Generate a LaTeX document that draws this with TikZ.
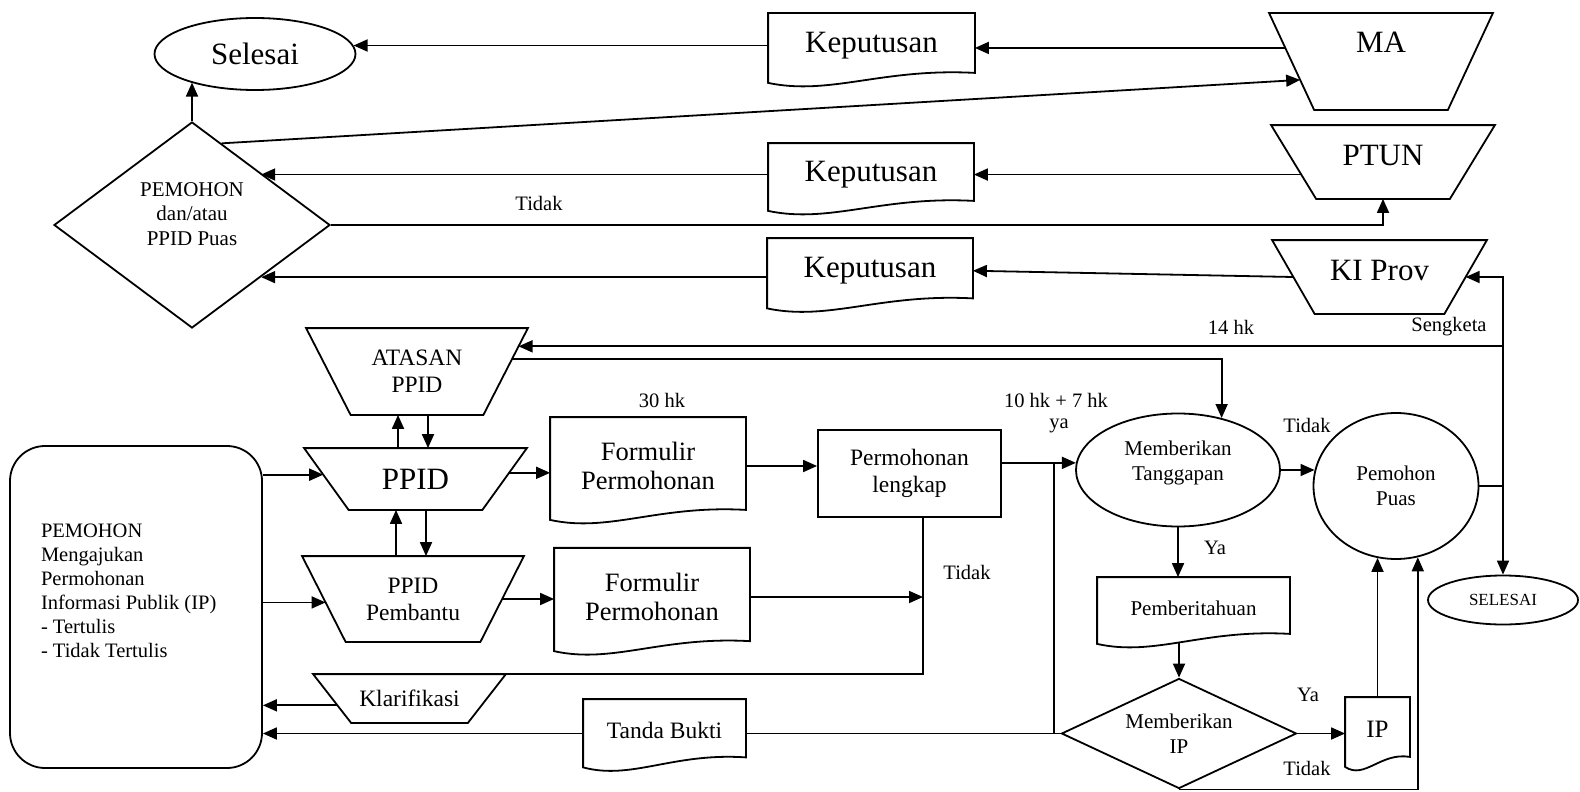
\documentclass[tikz,border=0pt]{standalone}
\usepackage{fontspec}
\setmainfont{Liberation Serif}
\usetikzlibrary{arrows.meta, calc, shapes.geometric}

% wavy-bottom document outline around a plain node
\newcommand{\docoutline}[1]{%
  \draw (#1.north west) -- (#1.north east) -- ([yshift=5pt]#1.south east)
    .. controls ($(#1.south west)!0.55!(#1.south east)+(0pt,10pt)$) and ($(#1.south west)!0.3!(#1.south east)+(0pt,-18pt)$) .. ([yshift=-5pt]#1.south west) -- cycle;}
% trapezium outline (wide top) around a plain node, #2 = inset of the bottom corners
\newcommand{\trapoutline}[2]{%
  \draw (#1.north west) -- (#1.north east) -- ([xshift=-#2]#1.south east) -- ([xshift=#2]#1.south west) -- cycle;}
% raise a node text without changing its box
\newcommand{\liftup}[2]{\raisebox{#1}[\height][\depth]{\begin{tabular}{@{}c@{}}#2\end{tabular}}}

\begin{document}
\begin{tikzpicture}[x=1pt, y=-1pt, line width=1.8pt,
  arr/.style={-{Triangle[length=14pt,width=12pt]}},
  endbox/.style={ellipse, draw, inner sep=0pt},
  trapbox/.style={rectangle, inner sep=0pt},
  docbox/.style={rectangle, inner sep=0pt},
  procbox/.style={rectangle, draw, inner sep=0pt},
  choice/.style={diamond, draw, inner sep=0pt},
  bigtxt/.style={font=\fontsize{31}{34}\selectfont},
  midtxt/.style={font=\fontsize{26.5}{29}\selectfont},
  medtxt/.style={font=\fontsize{23.5}{27}\selectfont},
  smalltxt/.style={font=\fontsize{21}{24.5}\selectfont},
  lbl/.style={font=\fontsize{20.5}{24}\selectfont}]
\useasboundingbox (0,0) rectangle (1580,792);
% Top: decisions
\node[endbox, bigtxt, minimum width=201pt, minimum height=72pt] (selesaiA) at (255,54) {Selesai};
\node[docbox, bigtxt, minimum width=205pt, minimum height=63pt] (kep1) at (871.5,45.5) {Keputusan};
\node[trapbox, bigtxt, minimum width=222pt, minimum height=95pt] (ma) at (1381,61.5) {\liftup{16pt}{MA}};
\node[choice, smalltxt, minimum width=276pt, minimum height=206pt] (puasA) at (192,225) {\liftup{9pt}{PEMOHON\\dan/atau\\PPID Puas}};
\node[docbox, bigtxt, minimum width=204pt, minimum height=61pt] (kep2) at (871,174.5) {Keputusan};
\node[trapbox, bigtxt, minimum width=222pt, minimum height=72pt] (ptun) at (1383,162) {\liftup{3pt}{PTUN}};
\node[docbox, bigtxt, minimum width=204pt, minimum height=63.5pt] (kep3) at (870,270.75) {Keputusan};
\node[trapbox, bigtxt, minimum width=213pt, minimum height=72pt] (kiprov) at (1379.5,277) {\liftup{3pt}{KI Prov}};
% Middle: request handling
\node[trapbox, medtxt, align=center, minimum width=220pt, minimum height=85pt] (atasan) at (417,371.5) {ATASAN\\PPID};
\node[trapbox, bigtxt, minimum width=221pt, minimum height=60pt] (ppid) at (415.5,479) {PPID};
\node[trapbox, medtxt, align=center, minimum width=220pt, minimum height=84pt] (pembantu) at (413,599) {PPID\\Pembantu};
\node[docbox, midtxt, align=center, minimum width=194pt, minimum height=96pt] (form1) at (648,466) {Formulir\\Permohonan};
\node[docbox, midtxt, align=center, minimum width=194pt, minimum height=96.5pt] (form2) at (652,597) {Formulir\\Permohonan};
\node[procbox, medtxt, align=center, minimum width=183pt, minimum height=87pt] (lengkap) at (909.5,473.5) {Permohonan\\lengkap};
\node[endbox, smalltxt, minimum width=204pt, minimum height=113pt] (tanggapan) at (1178,470) {\liftup{7pt}{Memberikan\\Tanggapan}};
\node[endbox, smalltxt, align=center, minimum width=165pt, minimum height=146pt] (puasB) at (1396,486) {Pemohon\\Puas};
\node[endbox, font=\fontsize{17}{20}\selectfont, minimum width=150pt, minimum height=49pt] (selesaiB) at (1503,600) {SELESAI};
% Bottom: applicant and answers
\node[procbox, rounded corners=35pt, minimum width=252pt, minimum height=322pt] (pemohon) at (136,607) {};
\node[lbl, align=left, anchor=west, inner sep=0pt] (pemohontxt) at ([xshift=31pt, yshift=16.5pt]pemohon.west) {PEMOHON\\Mengajukan\\Permohonan\\Informasi Publik (IP)\\- Tertulis\\- Tidak Tertulis};
\node[trapbox, medtxt, minimum width=191pt, minimum height=47pt] (klarif) at (409.5,698.5) {Klarifikasi};
\node[docbox, medtxt, minimum width=161pt, minimum height=61.5pt] (bukti) at (664.5,730.75) {Tanda Bukti};
\node[docbox, smalltxt, minimum width=191pt, minimum height=60pt] (pemberi) at (1193.5,608) {Pemberitahuan};
\node[choice, smalltxt, align=center, shape aspect=2.1, minimum width=235pt, minimum height=110pt] (beriIP) at (1179,733.5) {Memberikan\\IP};
\node[docbox, font=\fontsize{25}{28}\selectfont, minimum width=63pt, minimum height=63pt] (ipdoc) at (1377.5,729.5) {IP};
% Draw outlines
\foreach \d in {kep1,kep2,kep3,form1,form2,bukti,pemberi,ipdoc} \docoutline{\d};
\trapoutline{ma}{45pt}
\trapoutline{ptun}{45pt}
\trapoutline{kiprov}{42.5pt}
\trapoutline{atasan}{44.5pt}
\trapoutline{ppid}{44.5pt}
\trapoutline{pembantu}{43.5pt}
\trapoutline{klarif}{38pt}
% Points on the slanted sides
\coordinate (maA) at ($(ma.north west)!0.36!([xshift=45pt]ma.south west)$);
\coordinate (maB) at ($(ma.north west)!0.69!([xshift=45pt]ma.south west)$);
\coordinate (ptunA) at ($(ptun.north west)!0.67!([xshift=45pt]ptun.south west)$);
\coordinate (kiA) at ($(kiprov.north west)!0.5!([xshift=42.5pt]kiprov.south west)$);
\coordinate (kiB) at ($(kiprov.north east)!0.5!([xshift=-42.5pt]kiprov.south east)$);
\coordinate (atA) at ($(atasan.north east)!0.21!([xshift=-44.5pt]atasan.south east)$);
\coordinate (atB) at ($(atasan.north east)!0.36!([xshift=-44.5pt]atasan.south east)$);
\coordinate (ppL) at ($(ppid.north west)!0.43!([xshift=44.5pt]ppid.south west)$);
\coordinate (ppR) at ($(ppid.north east)!0.4!([xshift=-44.5pt]ppid.south east)$);
\coordinate (pbL) at ($(pembantu.north west)!0.54!([xshift=43.5pt]pembantu.south west)$);
\coordinate (pbR) at ($(pembantu.north east)!0.5!([xshift=-43.5pt]pembantu.south east)$);
\coordinate (klL) at ($(klarif.north west)!0.64!([xshift=38pt]klarif.south west)$);
% Draw appeal arrows
\draw[arr] (kep1.west) -- (kep1.west -| selesaiA.5);
\draw[arr] (maA) -- (maA -| kep1.east);
\draw[arr] (puasA.north) -- (puasA.north |- selesaiA.204);
\draw[arr] (puasA.70) -- (maB);
\draw[arr] (ptunA) -- (ptunA -| kep2.east);
\draw[arr] (kep2.west) -- (kep2.west -| puasA.37);
\draw[arr] (puasA.east) -| (ptun.south);
\draw[arr] (kiA) -- (kep3.east);
\draw[arr] (kep3.west |- puasA.-37) -- (puasA.-37);
% Draw sengketa line
\coordinate (sengketa) at (selesaiB.north |- puasB.east);
\draw (puasB.east) -- (sengketa);
\draw[arr] (sengketa) |- (kiB);
\draw[arr] (sengketa) -- (selesaiB.north);
\draw[arr] (sengketa |- atA) -- (atA);
\draw[arr] (atB) -| (tanggapan.50);
% Draw PPID links
\draw[arr] ([xshift=-17.5pt]ppid.north) -- ([xshift=-17.5pt]ppid.north |- atasan.south);
\draw[arr] ([xshift=12.5pt]ppid.north |- atasan.south) -- ([xshift=12.5pt]ppid.north);
\draw[arr] ([xshift=-19.5pt]ppid.south |- pembantu.north) -- ([xshift=-19.5pt]ppid.south);
\draw[arr] ([xshift=10.5pt]ppid.south) -- ([xshift=10.5pt]ppid.south |- pembantu.north);
\draw[arr] (pemohon.east |- ppL) -- (ppL);
\draw[arr] (pemohon.east |- pbL) -- (pbL);
\draw[arr] (ppR) -- (ppR -| form1.west);
\draw[arr] (pbR) -- (pbR -| form2.west);
\draw[arr] (form1.east) -- (form1.east -| lengkap.west);
% Draw incomplete request back to klarifikasi
\coordinate (kembali) at ([xshift=13.5pt]lengkap.south);
\draw (kembali) |- (klarif.north);
\draw[arr] (form2.east) -- (form2.east -| kembali);
\draw[arr] (klL) -- (klL -| pemohon.east);
% Draw answer path
\draw[arr] (lengkap.east |- tanggapan.176) -- (tanggapan.176);
\coordinate (ya) at ($(lengkap.east |- tanggapan.176)!0.7!(tanggapan.176)$);
\draw (ya) -- (ya |- beriIP.west);
\draw[arr] (tanggapan.east) -- (tanggapan.east -| puasB.169);
\draw[arr] (tanggapan.south) -- (tanggapan.south |- pemberi.north);
\draw[arr] ([yshift=-4pt]beriIP.north |- pemberi.south) -- (beriIP.north);
\draw[arr] (beriIP.east) -- (beriIP.east -| ipdoc.west);
\draw[arr] (ipdoc.north) -- (ipdoc.north |- puasB.255);
\draw[arr] (beriIP.south) -| (puasB.287);
\draw (beriIP.west) -- (beriIP.west -| bukti.east);
\draw[arr] (bukti.west |- beriIP.west) -- (pemohon.east |- beriIP.west);
% Labels
\node[lbl] (tidak1) at (539,203) {Tidak};
\node[lbl] (hk14) at (1231,327) {14 hk};
\node[lbl] (sengketalbl) at (1449,327) {Sengketa};
\node[lbl] (hk30) at (662,400) {30 hk};
\node[lbl] (hk17) at (1056,400) {10 hk + 7 hk};
\node[lbl] (ya1) at (1059,426) {ya};
\node[lbl] (tidak2) at (1307,425) {Tidak};
\node[lbl] (ya2) at (1215,548) {Ya};
\node[lbl] (tidak3) at (967,572) {Tidak};
\node[lbl] (ya3) at (1308,695) {Ya};
\node[lbl] (tidak4) at (1307,768) {Tidak};
\end{tikzpicture}
\end{document}
